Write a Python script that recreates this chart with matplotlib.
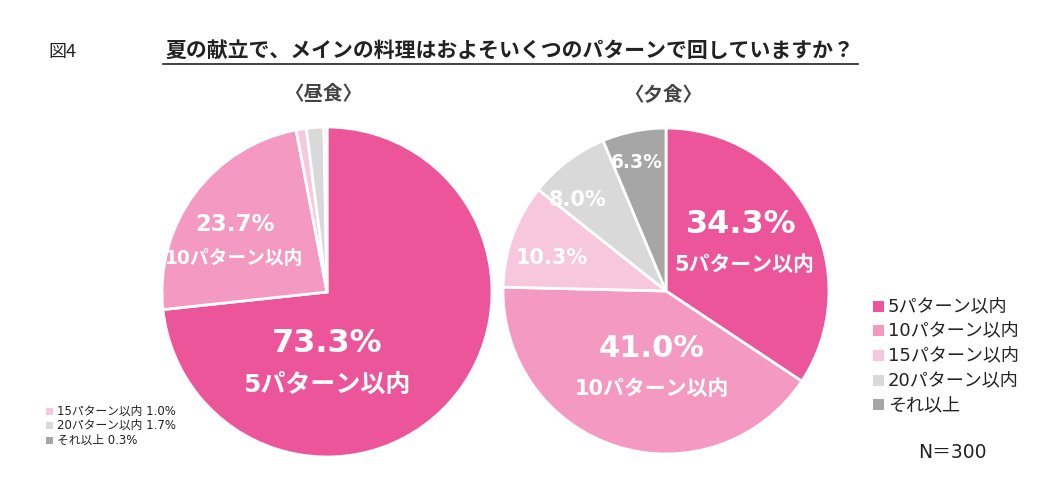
import matplotlib
matplotlib.use("Agg")
import matplotlib.pyplot as plt
from matplotlib.patches import Rectangle
from matplotlib.lines import Line2D

plt.rcParams['font.family'] = ['DejaVu Sans', 'Noto Sans CJK JP']
CJK = ['Noto Sans CJK JP', 'DejaVu Sans']
MIX = ['DejaVu Sans', 'Noto Sans CJK JP']

categories = ['5パターン以内', '10パターン以内', '15パターン以内', '20パターン以内', 'それ以上']
lunch = [73.3, 23.7, 1.0, 1.7, 0.3]
dinner = [34.3, 41.0, 10.3, 8.0, 6.3]
colors = ['#EC559A', '#F49AC2', '#F7C7DD', '#D9D9D9', '#A6A6A6']
title = '夏の献立で、メインの料理はおよそいくつのパターンで回していますか？'
fig_label = '図4'
sub_titles = ['〈昼食〉', '〈夕食〉']
n_text = 'N＝300'

W, H = 1040, 503
fig = plt.figure(figsize=(W / 100, H / 100), dpi=100)
fig.patch.set_facecolor('white')

def px(x, y):
    return x / W, 1 - y / H

def make_ax(cx, cy, r):
    ax = fig.add_axes([(cx - r) / W, 1 - (cy + r) / H, 2 * r / W, 2 * r / H])
    ax.axis('off')
    return ax

def fix(ax):
    ax.set_xlim(-1, 1)
    ax.set_ylim(-1, 1)
    ax.set_aspect('equal')
    ax.axis('off')

# left pie (lunch)
axL = make_ax(327, 292, 165)
axL.pie(lunch, colors=colors, startangle=90, counterclock=False, radius=1,
        wedgeprops=dict(edgecolor='white', linewidth=2))
fix(axL)
axL.text(0, -0.31, f'{lunch[0]:.1f}%', color='white', fontsize=23, fontweight='bold',
         ha='center', va='center', family=MIX)
axL.text(0, -0.56, categories[0], color='white', fontsize=18, fontweight='bold',
         ha='center', va='center', family=MIX)
axL.text(-0.56, 0.41, f'{lunch[1]:.1f}%', color='white', fontsize=16.5, fontweight='bold',
         ha='center', va='center', family=MIX)
axL.text(-0.56, 0.2, categories[1], color='white', fontsize=13.5, fontweight='bold',
         ha='center', va='center', family=MIX)

# right pie (dinner)
axR = make_ax(666, 291, 163)
axR.pie(dinner, colors=colors, startangle=90, counterclock=False, radius=1,
        wedgeprops=dict(edgecolor='white', linewidth=2))
fix(axR)
axR.text(0.46, 0.41, f'{dinner[0]:.1f}%', color='white', fontsize=23, fontweight='bold',
         ha='center', va='center', family=MIX)
axR.text(0.48, 0.16, categories[0], color='white', fontsize=15, fontweight='bold',
         ha='center', va='center', family=MIX)
axR.text(-0.09, -0.35, f'{dinner[1]:.1f}%', color='white', fontsize=22, fontweight='bold',
         ha='center', va='center', family=MIX)
axR.text(-0.09, -0.6, categories[1], color='white', fontsize=15, fontweight='bold',
         ha='center', va='center', family=MIX)
axR.text(-0.70, 0.2, f'{dinner[2]:.1f}%', color='white', fontsize=15, fontweight='bold',
         ha='center', va='center', family=MIX)
axR.text(-0.54, 0.56, f'{dinner[3]:.1f}%', color='white', fontsize=15, fontweight='bold',
         ha='center', va='center', family=MIX)
axR.text(-0.18, 0.79, f'{dinner[4]:.1f}%', color='white', fontsize=13.5, fontweight='bold',
         ha='center', va='center', family=MIX)

# titles
fig.text(*px(48, 52), fig_label, fontsize=13, ha='left', va='center', family=CJK, color='#222222')
fig.text(*px(510, 50), title, fontsize=15, fontweight='bold', ha='center', va='center',
         family=CJK, color='#222222')
fig.add_artist(Line2D([163 / W, 858 / W], [1 - 64 / H, 1 - 64 / H], color='#222222', lw=1.2))
fig.text(*px(323, 95), sub_titles[0], fontsize=14, fontweight='bold', ha='center', va='center',
         family=CJK, color='#444444')
fig.text(*px(663, 95), sub_titles[1], fontsize=14, fontweight='bold', ha='center', va='center',
         family=CJK, color='#444444')

# small legend (lunch minor slices)
for i, idx in enumerate([2, 3, 4]):
    y = 411 + i * 14.5
    fig.add_artist(Rectangle(((46) / W, 1 - (y + 3.5) / H), 7 / W, 7 / H,
                             facecolor=colors[idx], edgecolor='none'))
    fig.text(*px(57, y), f'{categories[idx]} {lunch[idx]:.1f}%', fontsize=8.5,
             ha='left', va='center', family=MIX, color='#222222')

# right legend
for i, c in enumerate(categories):
    y = 306 + i * 24.7
    fig.add_artist(Rectangle((873 / W, 1 - (y + 5.5) / H), 11 / W, 11 / H,
                             facecolor=colors[i], edgecolor='none'))
    fig.text(*px(888, y), c, fontsize=13, ha='left', va='center', family=MIX, color='#222222')

fig.text(*px(952, 452), n_text, fontsize=13.5, ha='center', va='center', family=MIX, color='#222222')

fig.savefig('out.png', dpi=100, facecolor='white')
